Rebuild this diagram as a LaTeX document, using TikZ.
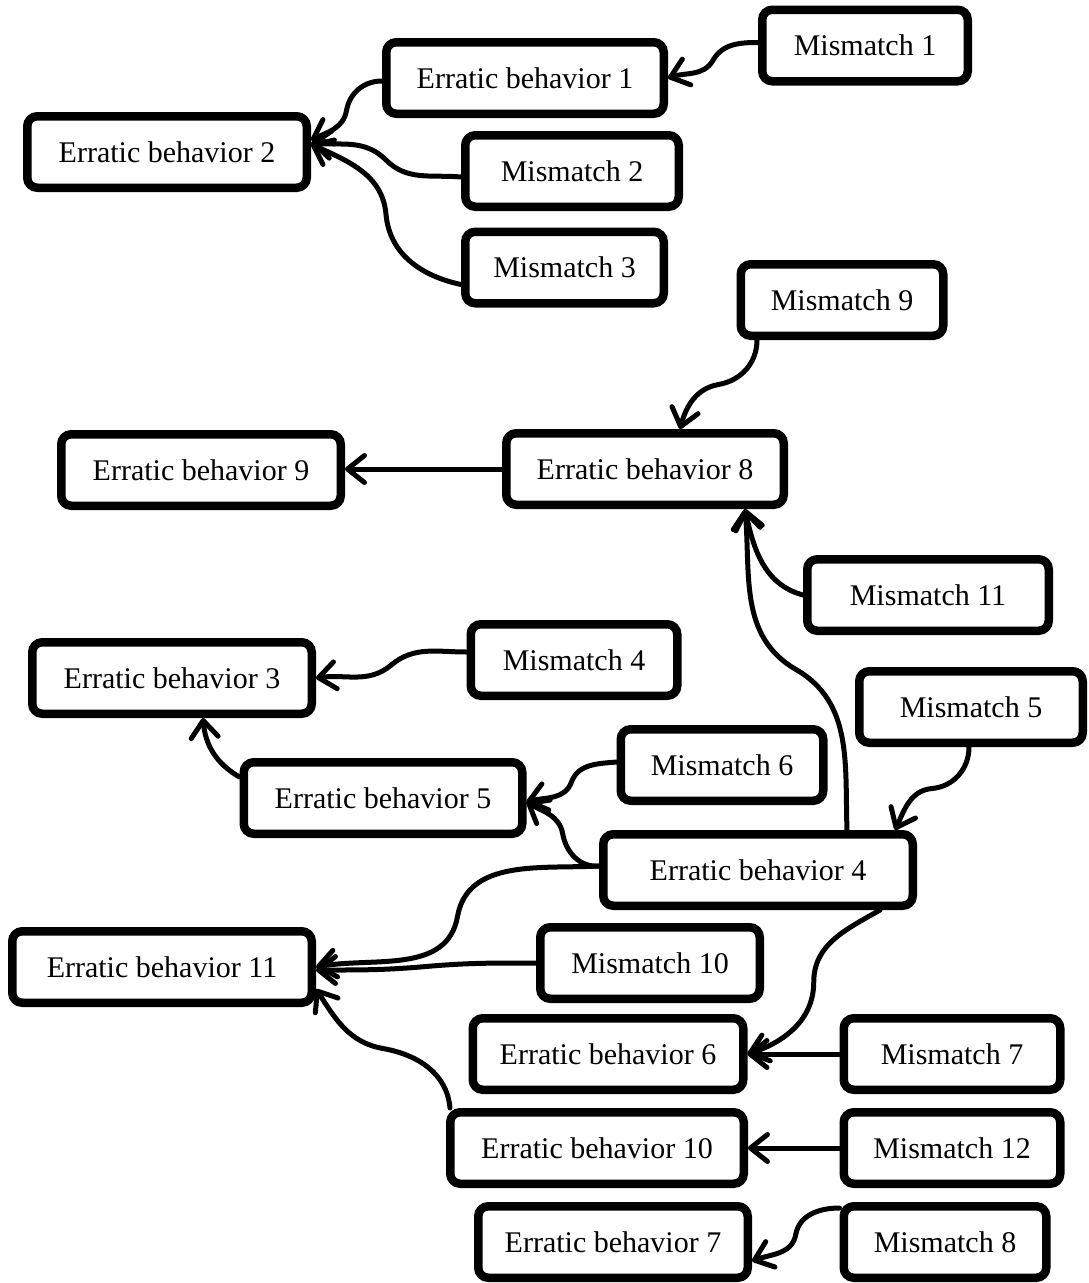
\documentclass[tikz,border=0pt]{standalone}
\usepackage{fontspec}
\setmainfont{Liberation Serif}
\usetikzlibrary{arrows.meta,calc}
% two-piece curved connector: source, target, out angle, in angle at the midpoint,
% out angle from the midpoint, in angle at the target
\newcommand\bentlink[6]{\draw[conn] (#1) to[out=#3,in=#4] ($(#1)!.5!(#2)$) to[out=#5,in=#6] (#2);}
\begin{document}
\begin{tikzpicture}[x=1pt,y=1pt,
  box/.style={draw=black, line width=8.5pt, rounded corners=10pt, fill=white,
    font=\fontsize{30}{36}\selectfont, minimum height=71.5pt, inner sep=0pt},
  conn/.style={line width=5pt, line cap=round, line join=round,
    -{Straight Barb[length=17pt,width=27pt,line cap=round,line join=round]}}]
\useasboundingbox (0,0) rectangle (1088,-1283);
\fill[white] (0,0) rectangle (1088,-1283);

% boxes
\node[box, minimum width=205.5pt] (m1)   at (865,-45.5)  {Mismatch 1};
\node[box, minimum width=277.5pt] (eb1)  at (525,-78)    {Erratic behavior 1};
\node[box, minimum width=279.5pt] (eb2)  at (167,-152)   {Erratic behavior 2};
\node[box, minimum width=213.5pt] (m2)   at (572,-171)   {Mismatch 2};
\node[box, minimum width=198.5pt] (m3)   at (564.5,-267.5) {Mismatch 3};
\node[box, minimum width=202.5pt] (m9)   at (842,-300)   {Mismatch 9};
\node[box, minimum width=277.5pt] (eb8)  at (645,-469)   {Erratic behavior 8};
\node[box, minimum width=279.5pt] (eb9)  at (201,-470)   {Erratic behavior 9};
\node[box, minimum width=241.5pt] (m11)  at (928,-595)   {Mismatch 11};
\node[box, minimum width=279.5pt] (eb3)  at (172,-678)   {Erratic behavior 3};
\node[box, minimum width=206.5pt] (m4)   at (574,-660)   {Mismatch 4};
\node[box, minimum width=223.5pt] (m5)   at (971,-707)   {Mismatch 5};
\node[box, minimum width=202.5pt] (m6)   at (722,-765)   {Mismatch 6};
\node[box, minimum width=278.5pt] (eb5)  at (383,-798)   {Erratic behavior 5};
\node[box, minimum width=309.5pt] (eb4)  at (758,-870)   {Erratic behavior 4};
\node[box, minimum width=299.5pt] (eb11) at (162,-967)   {Erratic behavior 11};
\node[box, minimum width=219.5pt] (m10)  at (650,-963)   {Mismatch 10};
\node[box, minimum width=270.5pt] (eb6)  at (608,-1054)  {Erratic behavior 6};
\node[box, minimum width=216.5pt] (m7)   at (952,-1054)  {Mismatch 7};
\node[box, minimum width=293.5pt] (eb10) at (597,-1148)  {Erratic behavior 10};
\node[box, minimum width=216.5pt] (m12)  at (952,-1148)  {Mismatch 12};
\node[box, minimum width=269.5pt] (eb7)  at (613,-1242)  {Erratic behavior 7};
\node[box, minimum width=202.5pt] (m8)   at (945,-1242)  {Mismatch 8};

% connectors
\bentlink{[yshift=3pt]m1.west}{eb1.east}{180}{60}{240}{18}
\bentlink{[yshift=-3pt]eb1.west}{[yshift=12pt]eb2.east}{180}{80}{260}{25}
\bentlink{[yshift=-6pt]m2.west}{[yshift=9pt]eb2.east}{175}{315}{135}{-5}
\bentlink{[yshift=-17pt]m3.west}{[yshift=8pt]eb2.east}{168}{-85}{95}{-25}
\bentlink{[xshift=-85pt]m9.south}{[xshift=35pt]eb8.north}{270}{10}{190}{75}
\draw[conn] (eb8.west) -- (eb8.west -| eb9.east);
\draw[conn] (m11.west) to[out=165,in=-78] ([xshift=100pt]eb8.south);
\bentlink{[xshift=89pt]eb4.north}{[xshift=100pt]eb8.south}{92}{-30}{150}{-85}
\bentlink{[yshift=8pt]m4.west}{eb3.east}{180}{40}{220}{8}
\draw[conn] ([yshift=21pt]eb5.west) to[out=150,in=-85] ([xshift=31pt]eb3.south);
\bentlink{[yshift=3pt]m6.west}{[yshift=-4pt]eb5.east}{185}{70}{250}{15}
\bentlink{[yshift=4pt]eb4.west}{[yshift=-4pt]eb5.east}{185}{-80}{100}{-30}
\bentlink{[yshift=4pt]eb4.west}{eb11.east}{183}{80}{260}{10}
\bentlink{m10.west}{[yshift=-3pt]eb11.east}{180}{5}{185}{0}
\bentlink{[xshift=4pt]eb10.north west}{[yshift=-22pt]eb11.east}{95}{-10}{170}{-57}
\bentlink{[xshift=122pt]eb4.south}{eb6.east}{210}{90}{270}{18}
\draw[conn] (m7.west) -- (eb6.east);
\draw[conn] (m12.west) -- (eb10.east);
\bentlink{[yshift=-6pt]m8.north west}{[yshift=-19pt]eb7.east}{180}{80}{260}{20}
\bentlink{[xshift=-2pt]m5.south}{[xshift=137pt]eb4.north}{270}{5}{185}{65}
\end{tikzpicture}
\end{document}
